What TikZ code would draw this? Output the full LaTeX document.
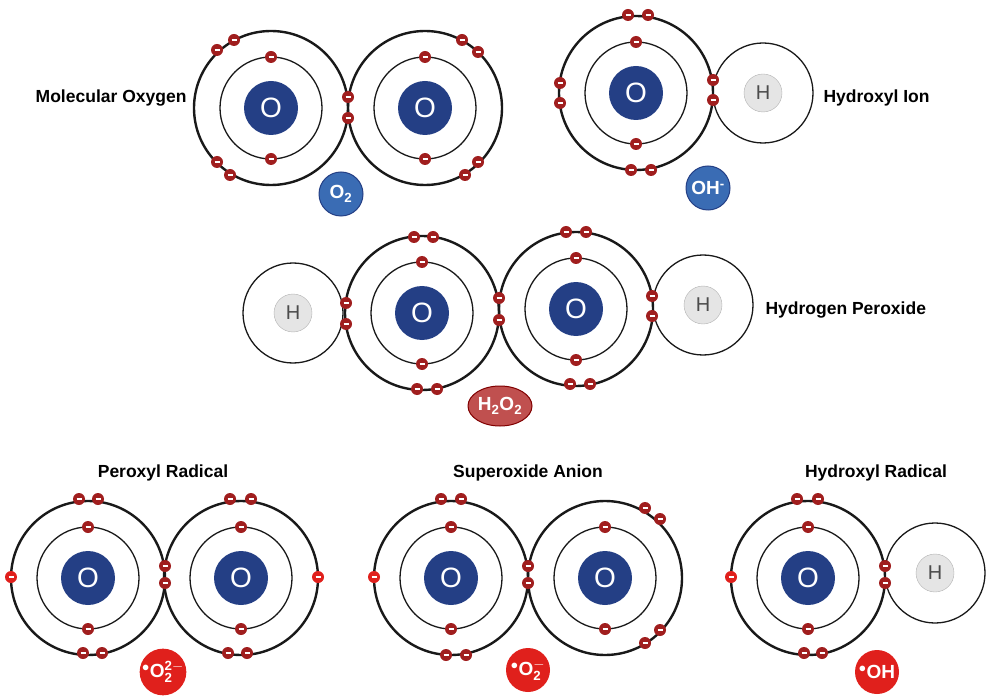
\documentclass[tikz,border=0pt]{standalone}
\usepackage{fontspec}
\setmainfont{Liberation Sans}
\usetikzlibrary{shapes.geometric}
\definecolor{nucb}{HTML}{243F85}
\definecolor{labb}{HTML}{3A6CB4}
\definecolor{elr}{HTML}{A01E1E}
\definecolor{elb}{HTML}{E0201C}
\definecolor{hpr}{HTML}{C0504F}
\begin{document}
\begin{tikzpicture}[x=1pt,y=-1pt,
 outer/.style={circle,draw=black!90,line width=2.4pt,minimum size=154pt,inner sep=0},
 inner/.style={circle,draw=black!90,line width=1.3pt,minimum size=102pt,inner sep=0},
 hshell/.style={circle,draw=black!90,line width=1.3pt,minimum size=100pt,inner sep=0},
 nuc/.style={circle,fill=nucb,inner sep=0,minimum size=54pt,text=white,font=\fontsize{28}{28}\selectfont},
 hnuc/.style={circle,fill=gray!20,draw=gray!60,inner sep=0,minimum size=38pt,text=black!70,font=\fontsize{20}{20}\selectfont},
 el/.style={circle,fill=elr,inner sep=0,minimum size=12pt,path picture={\draw[white,line width=1.2pt] ([xshift=-2.5pt]path picture bounding box.center)--([xshift=2.5pt]path picture bounding box.center);}},
 rel/.style={el,fill=elb},
 ttl/.style={font=\bfseries\fontsize{17.5}{17.5}\selectfont},
 blab/.style={circle,fill=labb,draw=nucb,line width=1pt,text=white,minimum size=44pt,inner sep=0,font=\bfseries\fontsize{19}{19}\selectfont},
 rlab/.style={circle,fill=elb,text=white,minimum size=44pt,inner sep=0,font=\bfseries\fontsize{19}{19}\selectfont}]
\useasboundingbox (0,0) rectangle (1000,700);
\newcommand\atom[3]{\node[outer] (#1o) at (#2,#3) {};\node[inner] (#1i) at (#2,#3) {};\node[nuc] (#1n) at (#2,#3) {O};
 \node[el] at (#2,#3-51) {};\node[el] at (#2,#3+51) {};}
\newcommand\hatom[3]{\node[hshell] (#1o) at (#2,#3) {};\node[hnuc] (#1n) at (#2,#3) {H};}
\newcommand\e[2]{\node[el] at (#1,#2) {};}
\newcommand\re[2]{\node[rel] at (#1,#2) {};}
% Molecular oxygen
\atom{a}{271}{108}\atom{b}{425}{108}
\e{217}{50}\e{234}{40}\e{217}{162}\e{230}{175}\e{348}{97}\e{348}{118}
\e{462}{40}\e{478}{52}\e{478}{162}\e{465}{175}
\node[ttl,anchor=east] (t1) at (190,98) {Molecular Oxygen};
\node[blab] (l1) at (341,194) {O\textsubscript{2}};
% Hydroxyl ion
\atom{c}{636}{93}\hatom{d}{763}{93}
\e{628}{15}\e{648}{15}\e{560}{83}\e{560}{103}\e{631}{170}\e{651}{170}\e{713}{80}\e{713}{100}
\node[ttl,anchor=west] (t2) at (820,98) {Hydroxyl Ion};
\node[blab] (l2) at (708,188) {OH\textsuperscript{-}};
% Hydrogen peroxide
\hatom{e}{293}{313}\atom{f}{422}{313}\atom{g}{576}{309}\hatom{h}{703}{305}
\e{414}{237}\e{433}{237}\e{417}{389}\e{437}{389}\e{346}{303}\e{346}{324}\e{499}{298}\e{499}{320}
\e{566}{232}\e{586}{232}\e{570}{384}\e{590}{384}\e{652}{296}\e{652}{316}
\node[ttl,anchor=west] (t3) at (762,310) {Hydrogen Peroxide};
\node[ellipse,fill=hpr,draw=red!50!black,line width=1pt,text=white,minimum width=64pt,minimum height=40pt,inner sep=0,font=\bfseries\fontsize{19}{19}\selectfont] (l3) at (500,406) {H\textsubscript{2}O\textsubscript{2}};
% Peroxyl radical
\atom{i}{88}{578}\atom{j}{241}{578}
\e{79}{499}\e{98}{499}\e{230}{499}\e{251}{499}\e{83}{653}\e{102}{653}\e{228}{653}\e{247}{653}\e{165}{566}\e{165}{583}
\re{11}{577}\re{318}{577}
\node[ttl] (t4) at (163,473) {Peroxyl Radical};
\node[rlab] (l4) at (163,672) {\textsuperscript{$\bullet$}O$^{\mathbf{2-}}_{\mathbf 2}$};
% Superoxide anion
\atom{k}{451}{578}\atom{m}{605}{578}
\e{441}{499}\e{461}{499}\e{446}{655}\e{466}{655}\e{528}{566}\e{528}{583}
\e{645}{508}\e{660}{519}\e{660}{630}\e{645}{643}
\re{374}{577}
\node[ttl] (t5) at (528,473) {Superoxide Anion};
\node[rlab] (l5) at (528,670) {\textsuperscript{$\bullet$}O$^{\mathbf{-}}_{\mathbf 2}$};
% Hydroxyl radical
\atom{p}{808}{578}\hatom{q}{935}{573}
\e{797}{499}\e{818}{499}\e{804}{653}\e{822}{653}\e{885}{566}\e{885}{583}
\re{731}{577}
\node[ttl] (t6) at (876,473) {Hydroxyl Radical};
\node[rlab] (l6) at (877,672) {\textsuperscript{$\bullet$}OH};
\end{tikzpicture}
\end{document}
